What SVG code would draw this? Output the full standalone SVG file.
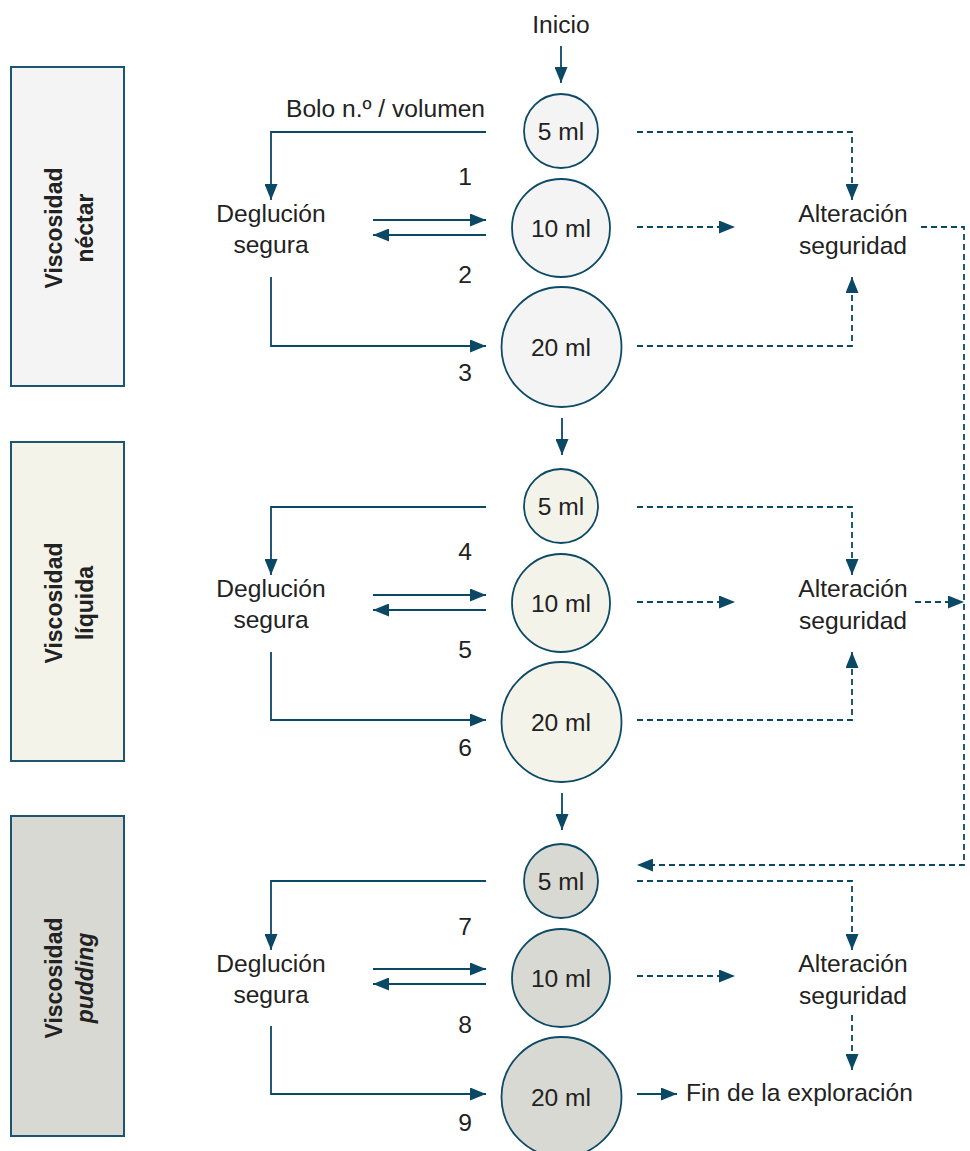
<svg xmlns="http://www.w3.org/2000/svg" width="970" height="1151" viewBox="0 0 970 1151">
<style>
text{font-family:"Liberation Sans",Arial,sans-serif;font-size:24.6px;fill:#222;}
.c{text-anchor:middle;}
.panel text{font-weight:bold;font-size:23px;text-anchor:middle;}
.panel rect{stroke:#1d5570;stroke-width:2;}
.circ{stroke:#0d4a66;stroke-width:1.8;}
.s{fill:none;stroke:#0b4866;stroke-width:1.8;}
.d{fill:none;stroke:#0b4866;stroke-width:1.8;stroke-dasharray:6 4;}
</style>
<defs>
<marker id="ah" markerUnits="userSpaceOnUse" markerWidth="17" markerHeight="13" refX="16" refY="6.5" orient="auto">
<path d="M0,0 L16,6.5 L0,13 z" fill="#0b4866"/>
</marker>
</defs>

<g id="panel-nectar" class="panel">
<rect x="11" y="67" width="113" height="319" fill="#f4f4f4"/>
<text transform="translate(62,228) rotate(-90)">Viscosidad</text>
<text transform="translate(93,228) rotate(-90)">néctar</text>
</g>
<g id="panel-liquida" class="panel">
<rect x="11" y="442" width="113" height="319" fill="#f3f3ea"/>
<text transform="translate(62,603) rotate(-90)">Viscosidad</text>
<text transform="translate(93,603) rotate(-90)">líquida</text>
</g>
<g id="panel-pudding" class="panel">
<rect x="11" y="816" width="113" height="320" fill="#d9d9d3"/>
<text transform="translate(62,978) rotate(-90)">Viscosidad</text>
<text transform="translate(93,978) rotate(-90)" font-style="italic">pudding</text>
</g>

<g id="inicio"><text class="c" x="561" y="33">Inicio</text></g>
<g id="bolo-label"><text x="485" y="117" text-anchor="end">Bolo n.º / volumen</text></g>

<g id="n1-5ml"><circle class="circ" cx="561" cy="131" r="37" fill="#f4f4f4"/><text class="c" x="561" y="140">5 ml</text></g>
<g id="n1-10ml"><circle class="circ" cx="561" cy="228" r="49" fill="#f4f4f4"/><text class="c" x="561" y="237">10 ml</text></g>
<g id="n1-20ml"><circle class="circ" cx="561.5" cy="347" r="60" fill="#f4f4f4"/><text class="c" x="561" y="356">20 ml</text></g>
<g id="n1-deg"><text class="c" x="271" y="222">Deglución</text><text class="c" x="271" y="253">segura</text></g>
<g id="n1-alt"><text class="c" x="853" y="222">Alteración</text><text class="c" x="853" y="254">seguridad</text></g>
<g id="n1-nums"><text class="c" x="465" y="185">1</text><text class="c" x="465" y="283">2</text><text class="c" x="465" y="381">3</text></g>

<g id="n2-5ml"><circle class="circ" cx="561" cy="506" r="37" fill="#f3f3ea"/><text class="c" x="561" y="515">5 ml</text></g>
<g id="n2-10ml"><circle class="circ" cx="561" cy="603" r="49" fill="#f3f3ea"/><text class="c" x="561" y="612">10 ml</text></g>
<g id="n2-20ml"><circle class="circ" cx="561.5" cy="722" r="60" fill="#f3f3ea"/><text class="c" x="561" y="731">20 ml</text></g>
<g id="n2-deg"><text class="c" x="271" y="597">Deglución</text><text class="c" x="271" y="628">segura</text></g>
<g id="n2-alt"><text class="c" x="853" y="597">Alteración</text><text class="c" x="853" y="629">seguridad</text></g>
<g id="n2-nums"><text class="c" x="465" y="560">4</text><text class="c" x="465" y="658">5</text><text class="c" x="465" y="756">6</text></g>

<g id="n3-5ml"><circle class="circ" cx="561" cy="881" r="37" fill="#d9d9d3"/><text class="c" x="561" y="890">5 ml</text></g>
<g id="n3-10ml"><circle class="circ" cx="561" cy="978" r="49" fill="#d9d9d3"/><text class="c" x="561" y="987">10 ml</text></g>
<g id="n3-20ml"><circle class="circ" cx="561.5" cy="1097" r="60" fill="#d9d9d3"/><text class="c" x="561" y="1106">20 ml</text></g>
<g id="n3-deg"><text class="c" x="271" y="972">Deglución</text><text class="c" x="271" y="1003">segura</text></g>
<g id="n3-alt"><text class="c" x="853" y="972">Alteración</text><text class="c" x="853" y="1004">seguridad</text></g>
<g id="n3-nums"><text class="c" x="465" y="935">7</text><text class="c" x="465" y="1033">8</text><text class="c" x="465" y="1131">9</text></g>
<g id="fin"><text x="686" y="1101">Fin de la exploración</text></g>

<g id="connectors">
<path class="s" d="M561,46 V83" marker-end="url(#ah)"/>
<path class="s" d="M562,418 V455" marker-end="url(#ah)"/>
<path class="s" d="M562,793 V830" marker-end="url(#ah)"/>

<path class="s" d="M486,132 H271 V200" marker-end="url(#ah)"/>
<path class="s" d="M373,220 H486" marker-end="url(#ah)"/>
<path class="s" d="M486,235 H373" marker-end="url(#ah)"/>
<path class="s" d="M271,277 V346 H486" marker-end="url(#ah)"/>
<path class="d" d="M637,132 H852 V200" marker-end="url(#ah)"/>
<path class="d" d="M637,227 H735" marker-end="url(#ah)"/>
<path class="d" d="M637,346 H852 V277" marker-end="url(#ah)"/>
<path class="d" d="M921,227 H964 V865 H637" marker-end="url(#ah)"/>

<path class="s" d="M486,507 H271 V575" marker-end="url(#ah)"/>
<path class="s" d="M373,595 H486" marker-end="url(#ah)"/>
<path class="s" d="M486,610 H373" marker-end="url(#ah)"/>
<path class="s" d="M271,652 V720 H486" marker-end="url(#ah)"/>
<path class="d" d="M637,507 H852 V575" marker-end="url(#ah)"/>
<path class="d" d="M637,602 H735" marker-end="url(#ah)"/>
<path class="d" d="M637,720 H852 V652" marker-end="url(#ah)"/>
<path class="d" d="M915,602 H964" marker-end="url(#ah)"/>

<path class="s" d="M486,881 H271 V950" marker-end="url(#ah)"/>
<path class="s" d="M373,969 H486" marker-end="url(#ah)"/>
<path class="s" d="M486,984 H373" marker-end="url(#ah)"/>
<path class="s" d="M271,1026 V1094 H486" marker-end="url(#ah)"/>
<path class="d" d="M637,881 H852 V950" marker-end="url(#ah)"/>
<path class="d" d="M637,976 H735" marker-end="url(#ah)"/>
<path class="d" d="M852,1015 V1070" marker-end="url(#ah)"/>
<path class="s" d="M637,1094 H677" marker-end="url(#ah)"/>
</g>
</svg>
